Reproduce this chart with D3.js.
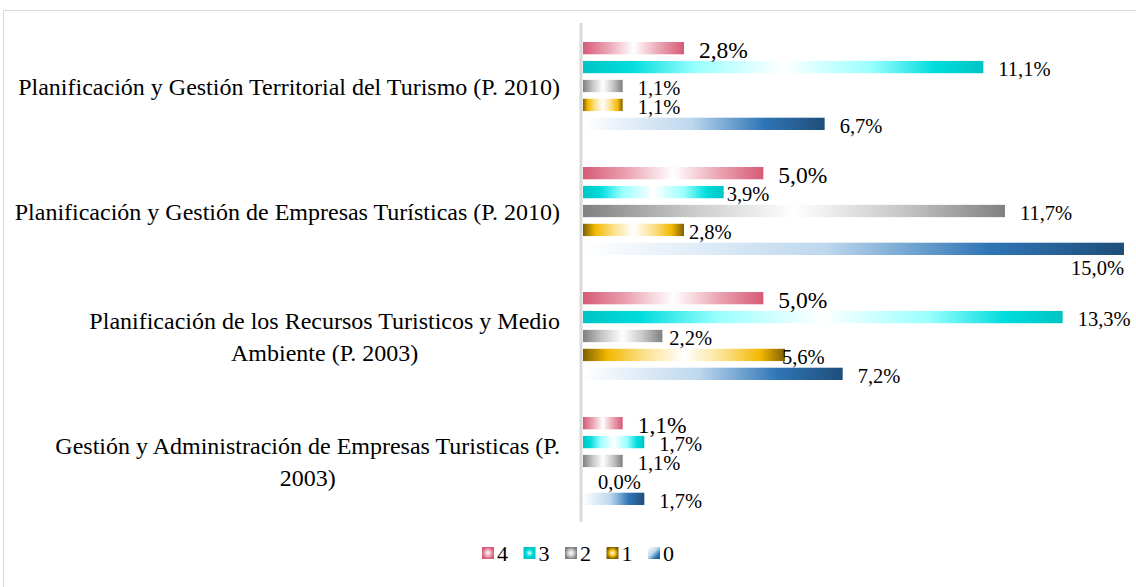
<!DOCTYPE html>
<html>
<head>
<meta charset="utf-8" />
<title>Planes de estudio</title>
<script src="https://cdnjs.cloudflare.com/ajax/libs/d3/7.8.5/d3.min.js"></script>
<style>
  body { margin: 0; background: #fff; }
</style>
</head>
<body>
<div id="chart"></div>
<script>
// categories, top to bottom; multi-line labels split by "|"
var categories = [
    "Planificación y Gestión Territorial del Turismo (P. 2010)",
    "Planificación y Gestión de Empresas Turísticas (P. 2010)",
    "Planificación de los Recursos Turisticos y Medio|Ambiente (P. 2003)",
    "Gestión y Administración de Empresas Turisticas (P.|2003)"
];
var series = ["4", "3", "2", "1", "0"];

// values in %, one array per series, in category order
var s4 = [2.8, 5.0, 5.0, 1.1];
var s3 = [11.1, 3.9, 13.3, 1.7];
var s2 = [1.1, 11.7, 2.2, 1.1];
var s1 = [1.1, 2.8, 5.6, 0.0];
var s0 = [6.7, 15.0, 7.2, 1.7];
var seriesValues = [s4, s3, s2, s1, s0];

// gradient stops per series (style, not data)
var gradStops = {
    "4": [[0, "#d65a76"], [0.25, "#eba5b4"], [0.5, "#ffffff"], [0.75, "#eba5b4"], [1, "#d65a76"]],
    "3": [[0, "#00c4c4"], [0.12, "#00dcdc"], [0.28, "#99ffff"], [0.5, "#ffffff"], [0.72, "#99ffff"], [0.88, "#00dcdc"], [1, "#00c4c4"]],
    "2": [[0, "#808080"], [0.25, "#c8c8c8"], [0.5, "#ffffff"], [0.75, "#c8c8c8"], [1, "#808080"]],
    "1": [[0, "#7f6000"], [0.12, "#f2b800"], [0.3, "#fbe08a"], [0.5, "#ffffff"], [0.7, "#fbe08a"], [0.88, "#f2b800"], [1, "#7f6000"]],
    "0": [[0, "#ffffff"], [0.45, "#bdd7ee"], [0.75, "#2e75b6"], [1, "#1f4e79"]]
};

// small label nudges, like the reference where labels collide
var labelShift = { "1|3": -12, "1|1": -10, "2|2": -8, "2|1": -18 };

var W = 1136, H = 587;
var FONT = "Liberation Serif";

var svg = d3.select("#chart").append("svg")
    .attr("width", W)
    .attr("height", H)
    .attr("font-family", FONT);

svg.append("rect")
    .attr("width", W).attr("height", H)
    .attr("fill", "#fff");

svg.append("rect")
    .attr("x", 3.5).attr("y", 10.5)
    .attr("width", 1140).attr("height", 600)
    .attr("fill", "none")
    .attr("stroke", "#d9d9d9");

var defs = svg.append("defs");
series.forEach(function(s) {
    var g = defs.append("linearGradient")
        .attr("id", "bar" + s)
        .attr("x1", "0").attr("x2", "1").attr("y1", "0").attr("y2", "0");
    gradStops[s].forEach(function(st) {
        g.append("stop").attr("offset", st[0]).attr("stop-color", st[1]);
    });
    var r;
    if (s === "0") {
        r = defs.append("linearGradient")
            .attr("id", "leg" + s)
            .attr("x1", "0").attr("y1", "0").attr("x2", "1").attr("y2", "1");
        gradStops[s].forEach(function(st) {
            r.append("stop").attr("offset", st[0]).attr("stop-color", st[1]);
        });
    } else {
        r = defs.append("radialGradient").attr("id", "leg" + s);
        var st = gradStops[s];
        r.append("stop").attr("offset", 0).attr("stop-color", "#fff");
        r.append("stop").attr("offset", 0.55).attr("stop-color", st[1][1]);
        r.append("stop").attr("offset", 1).attr("stop-color", st[0][1]);
    }
});

var x = d3.scaleLinear()
    .domain([0, 15])
    .range([583, 1124]);

var y = d3.scaleBand()
    .domain(d3.range(categories.length))
    .range([23.5, 523.5])
    .paddingInner(0.296)
    .paddingOuter(0.148);

var y1 = d3.scaleBand()
    .domain(series)
    .range([0, y.bandwidth()])
    .paddingInner(0.35)
    .paddingOuter(0);

// axis line
svg.append("line")
    .attr("x1", 581).attr("x2", 581)
    .attr("y1", 23).attr("y2", 522)
    .attr("stroke", "#d9d9d9")
    .attr("stroke-width", 3);

// category labels
categories.forEach(function(c, i) {
    var lines = c.split("|");
    var cy = y(i) + y.bandwidth() / 2 + 1;
    var t = svg.append("text")
        .attr("font-family", FONT)
        .attr("font-size", 24)
        .attr("fill", "#000")
        .attr("text-anchor", "middle");
    lines.forEach(function(l, j) {
        t.append("tspan")
            .attr("y", cy + (j - (lines.length - 1) / 2) * 32)
            .attr("dy", "0.35em")
            .text(l);
    });
    var maxW = 0;
    t.selectAll("tspan").each(function() { maxW = Math.max(maxW, this.getComputedTextLength()); });
    t.selectAll("tspan").attr("x", 560 - maxW / 2);
});

var fmt = function(v) { return v.toFixed(1).replace(".", ",") + "%"; };

var rows = [];
categories.forEach(function(c, i) {
    series.forEach(function(s, k) {
        rows.push({ cat: i, s: s, v: seriesValues[k][i] });
    });
});

svg.selectAll(".bar")
    .data(rows)
    .enter().append("rect")
    .attr("class", "bar")
    .attr("x", x(0))
    .attr("y", function(d) { return y(d.cat) + y1(d.s); })
    .attr("width", function(d) { return x(d.v) - x(0); })
    .attr("height", y1.bandwidth())
    .attr("fill", function(d) { return "url(#bar" + d.s + ")"; });

svg.selectAll(".valLabel")
    .data(rows)
    .enter().append("text")
    .attr("class", "valLabel")
    .attr("font-family", FONT)
    .attr("font-size", function(d) { return d.s === "4" ? 23.5 : 20.5; })
    .text(function(d) { return fmt(d.v); })
    .each(function(d) {
        var el = d3.select(this);
        var w = this.getComputedTextLength();
        var cy = y(d.cat) + y1(d.s) + y1.bandwidth() / 2;
        var lx = x(d.v) + 15 + (labelShift[d.cat + "|" + d.s] || 0);
        if (lx + w > W - 4) {
            el.attr("x", x(d.v)).attr("text-anchor", "end")
              .attr("y", cy + y1.bandwidth() / 2 + 13).attr("dy", "0.35em");
        } else {
            el.attr("x", lx).attr("y", cy + 2).attr("dy", "0.35em");
        }
    });

// legend
var legend = svg.append("g");
series.forEach(function(s, i) {
    var lx = 482 + i * 41.5;
    legend.append("rect")
        .attr("x", lx).attr("y", 547)
        .attr("width", 12).attr("height", 12)
        .attr("fill", "url(#leg" + s + ")");
    legend.append("text")
        .attr("x", lx + 15).attr("y", 553)
        .attr("dy", "0.35em")
        .attr("font-family", FONT)
        .attr("font-size", 22)
        .text(s);
});
</script>
</body>
</html>
